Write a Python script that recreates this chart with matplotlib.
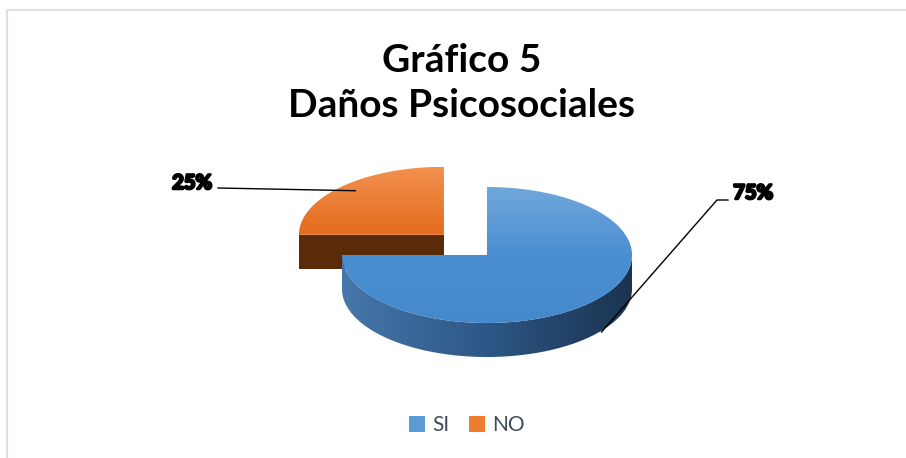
import numpy as np
import matplotlib.pyplot as plt
from matplotlib.patches import Polygon, Rectangle, Patch
from matplotlib.colors import LinearSegmentedColormap
import matplotlib.patheffects as pe

# datos del grafico
categorias = ['SI', 'NO']
valores = [75, 25]
etiquetas = ['75%', '25%']
explode = [0.0, 0.42]

plt.rcParams['font.family'] = ['Lato', 'DejaVu Sans']

fig = plt.figure(figsize=(9.06, 4.58), dpi=100)
ax = fig.add_axes([0, 0, 1, 1])
ax.set_xlim(0, 906)
ax.set_ylim(458, 0)
ax.axis('off')

# centro, radios de la elipse y grosor del "pastel 3D"
cx, cy, rx, ry, prof = 487, 255, 145, 68, 34

colores_top = {'SI': ['#70a7dc', '#4a8fd1', '#4489cc'], 'NO': ['#f2904f', '#e46c1c']}
colores_lado = {'SI': ['#4677ab', '#2d5786', '#1b3350'], 'NO': ['#6b320b', '#55280a']}
colores_corte = {'SI': '#2d5786', 'NO': '#5b2b09'}


def arco(x0, y0, t1, t2, dz=0, n=200):
    t = np.radians(np.linspace(t1, t2, n))
    return np.column_stack([x0 + rx * np.cos(t), y0 - ry * np.sin(t) + dz])


def pintar(verts, colores, horizontal=False, z=2):
    patch = Polygon(verts, closed=True, facecolor='none', edgecolor='none')
    ax.add_patch(patch)
    x0, y0 = verts.min(axis=0)
    x1, y1 = verts.max(axis=0)
    g = np.linspace(0, 1, 256)
    img = g[None, :] if horizontal else g[:, None]
    cmap = LinearSegmentedColormap.from_list('g', colores)
    im = ax.imshow(img, cmap=cmap, extent=(x0, x1, y1, y0), origin='upper',
                   aspect='auto', zorder=z, interpolation='bilinear')
    im.set_clip_path(patch)


# angulos de cada porcion (empieza arriba, sentido horario)
total = sum(valores)
rangos = []
a = 90.0
for v in valores:
    t = 360.0 * v / total
    rangos.append((a - t, a))
    a -= t

piezas = []
for i, cat in enumerate(categorias):
    t1, t2 = rangos[i]
    mid = np.radians((t1 + t2) / 2)
    px = cx + explode[i] * rx * np.cos(mid)
    py = cy - explode[i] * ry * np.sin(mid)
    piezas.append((np.sin(mid), i, cat, t1, t2, px, py))

# primero las porciones del fondo
piezas.sort(key=lambda p: -p[0])
anclas = {}
z = 2
for s, i, cat, t1, t2, px, py in piezas:
    # lado curvo visible (mitad frontal)
    for k in (-1, 0, 1):
        lo = max(t1, -180 + 360 * k)
        hi = min(t2, 360 * k)
        if hi > lo:
            arriba = arco(px, py, lo, hi)
            abajo = arco(px, py, hi, lo, dz=prof)
            pintar(np.vstack([arriba, abajo]), colores_lado[cat], horizontal=True, z=z)
    # caras de corte visibles
    for ang, normal in ((t1, t1 - 90), (t2, t2 + 90)):
        if np.sin(np.radians(normal)) < -1e-6:
            r = arco(px, py, ang, ang, n=1)[0]
            cara = np.array([[px, py], r, r + [0, prof], [px, py + prof]])
            ax.add_patch(Polygon(cara, closed=True, facecolor=colores_corte[cat],
                                 edgecolor='none', zorder=z))
    # cara superior
    tapa = np.vstack([[px, py], arco(px, py, t1, t2)])
    pintar(tapa, colores_top[cat], z=z + 0.5)
    m = (t1 + t2) / 2
    anclas[cat] = arco(px, py, m, m, n=1)[0]
    z += 1

# etiquetas con lineas guia
efecto = [pe.withStroke(linewidth=1.8, foreground='black')]
x_no, y_no = anclas['NO']
ax.plot([218, x_no + 14], [188, y_no + 4], color='black', lw=1, zorder=10)
ax.text(192, 183, etiquetas[1], ha='center', va='center', fontsize=14.5,
        fontweight='bold', path_effects=efecto, zorder=11)

x_si, y_si = anclas['SI']
ax.plot([728, 717, x_si + 12, x_si + 12], [200, 200, y_si + prof * 0.85, y_si + prof * 0.85],
        color='black', lw=1, zorder=10)
ax.text(753, 193, etiquetas[0], ha='center', va='center', fontsize=14.5,
        fontweight='bold', path_effects=efecto, zorder=11)

# titulo
ax.text(462, 83, 'Gráfico 5\nDaños Psicosociales', ha='center', va='center',
        fontsize=28, fontweight='bold', linespacing=1.35)

# borde del area del grafico
ax.add_patch(Rectangle((6.5, 9.5), 940, 480, fill=False, edgecolor='#dbe0e7', lw=1.5))

# leyenda
manijas = [Patch(facecolor='#5b9bd5'), Patch(facecolor='#ed7d31')]
fig.legend(manijas, categorias, loc='center', bbox_to_anchor=(467 / 906, 1 - 425 / 458),
           ncol=2, frameon=False, handlelength=0.8, handleheight=0.8,
           handletextpad=0.35, columnspacing=0.9, fontsize=15, labelcolor='#3f4b5b')

ax.set_xlim(0, 906)
ax.set_ylim(458, 0)
fig.savefig('out.png', dpi=100)
